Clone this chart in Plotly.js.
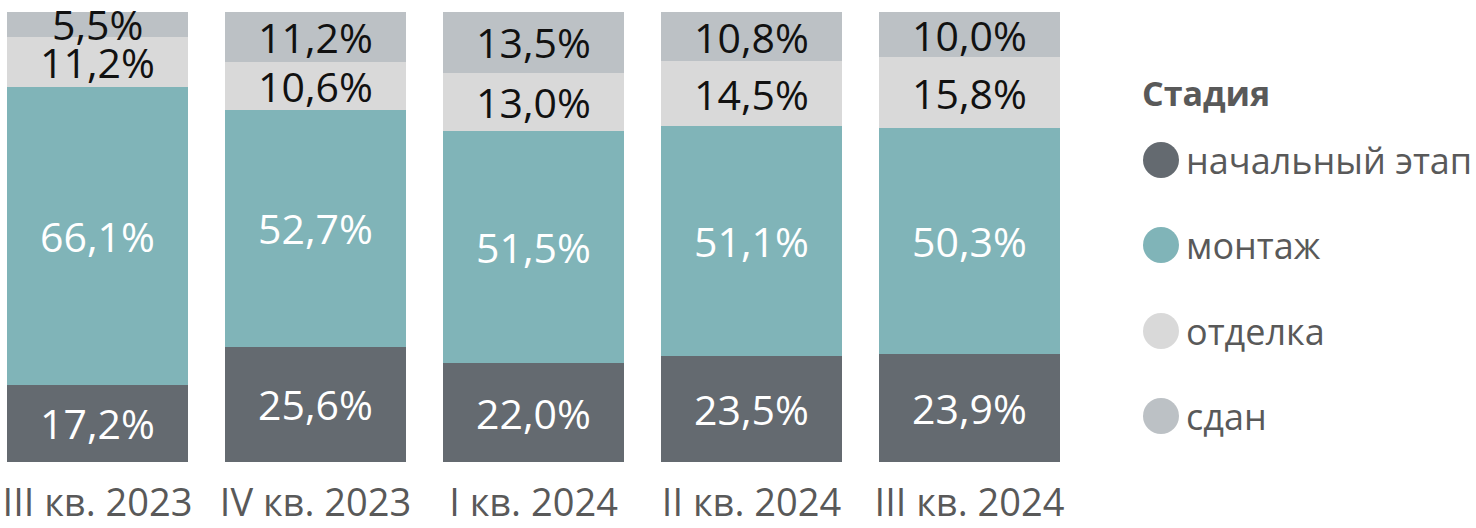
<!DOCTYPE html>
<html>
<head>
<meta charset="utf-8">
<script src="https://cdn.plot.ly/plotly-3.0.1.min.js"></script>
<style>html,body{margin:0;padding:0;background:#fff;}#chart{width:1476px;height:528px;}</style>
</head>
<body>
<div id="chart"></div>
<script>
const categories = ["III кв. 2023", "IV кв. 2023", "I кв. 2024", "II кв. 2024", "III кв. 2024"];
const seriesNames = ["начальный этап", "монтаж", "отделка", "сдан"];
const initialStage = [17.2, 25.6, 22.0, 23.5, 23.9];
const assembly = [66.1, 52.7, 51.5, 51.1, 50.3];
const finishing = [11.2, 10.6, 13.0, 14.5, 15.8];
const delivered = [5.5, 11.2, 13.5, 10.8, 10.0];
const legendTitle = "Стадия";

const colors = ["#646a70", "#80b4b8", "#d9d9d9", "#bcc1c5"];
const textColors = ["#ffffff", "#ffffff", "#111111", "#111111"];
const values = [initialStage, assembly, finishing, delivered];
const FONT = "'Open Sans', 'Segoe UI', sans-serif";
const LABEL_SIZE = 41;

const fmt = v => v.toFixed(1).replace('.', ',') + '%';

const traces = values.map((vals, i) => ({
  type: 'bar',
  name: seriesNames[i],
  x: categories,
  y: vals,
  marker: {color: colors[i], line: {width: 0}},
  showlegend: false,
  hoverinfo: 'skip'
}));

const W = 1476, H = 528;
const ml = 0, mt = 12, mb = 66, plotRight = 1080;
const pw = plotRight - ml, ph = H - mt - mb;
const toPX = px => (px - ml) / pw;
const toPY = py => (H - mb - py) / ph;

const shapes = [];
const annotations = [];

// value labels centred in each stacked segment (data coordinates)
categories.forEach((cat, j) => {
  let base = 0;
  values.forEach((vals, i) => {
    const v = vals[j];
    annotations.push({
      xref: 'x', yref: 'y', x: cat, y: base + v / 2,
      xanchor: 'center', yanchor: 'middle', showarrow: false,
      text: fmt(v),
      font: {family: FONT, size: LABEL_SIZE, color: textColors[i]}
    });
    base += v;
  });
});

annotations.push({
  xref: 'paper', yref: 'paper', x: toPX(1140), y: toPY(93),
  xanchor: 'left', yanchor: 'middle', showarrow: false,
  text: '<b>' + legendTitle + '</b>',
  font: {family: FONT, size: 34, color: '#595959'}
});
const itemY = [160, 245, 331, 416];
seriesNames.forEach((n, i) => {
  shapes.push({
    type: 'circle', xref: 'paper', yref: 'paper',
    xsizemode: 'pixel', ysizemode: 'pixel',
    xanchor: toPX(1161), yanchor: toPY(itemY[i]),
    x0: -18, x1: 18, y0: -18, y1: 18,
    fillcolor: colors[i], line: {width: 0}
  });
  annotations.push({
    xref: 'paper', yref: 'paper', x: toPX(1184), y: toPY(itemY[i]),
    xanchor: 'left', yanchor: 'middle', showarrow: false,
    text: n, font: {family: FONT, size: 36, color: '#595959'}
  });
});

const layout = {
  width: W, height: H,
  margin: {l: ml, r: W - plotRight, t: mt, b: mb, pad: 0},
  barmode: 'stack',
  bargap: 0.17,
  paper_bgcolor: '#ffffff',
  plot_bgcolor: '#ffffff',
  showlegend: false,
  xaxis: {
    type: 'category',
    range: [-97.5 / 218, (plotRight - 97.5) / 218],
    showgrid: false, zeroline: false, showline: false, ticks: '',
    ticklabelstandoff: 15,
    tickfont: {family: FONT, size: 38, color: '#595959'},
    fixedrange: true
  },
  yaxis: {
    range: [0, 100], showgrid: false, zeroline: false, showline: false,
    showticklabels: false, ticks: '', fixedrange: true
  },
  shapes: shapes,
  annotations: annotations
};

Plotly.newPlot('chart', traces, layout, {staticPlot: true, displayModeBar: false});
</script>
</body>
</html>
